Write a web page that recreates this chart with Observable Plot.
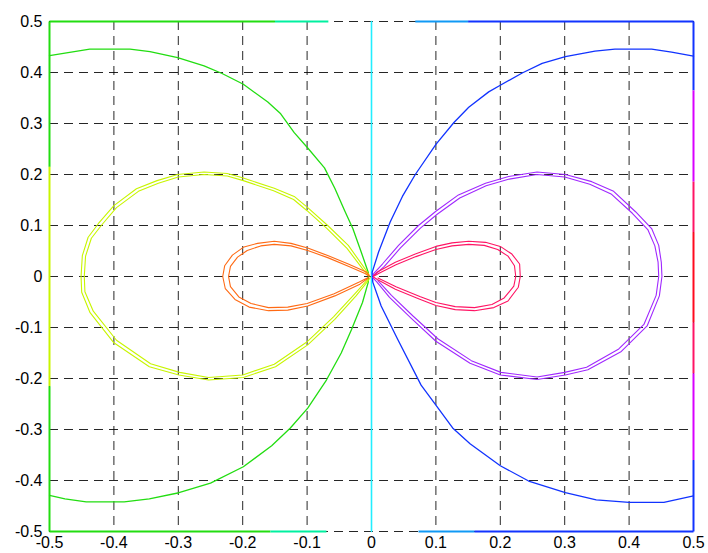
<!DOCTYPE html>
<html><head><meta charset="utf-8">
<script src="https://cdn.jsdelivr.net/npm/d3@7"></script>
<script src="https://cdn.jsdelivr.net/npm/@observablehq/plot@0.6"></script>
<style>body{margin:0;background:#fff;} #chart svg{display:block;}</style>
</head><body><div id="chart"></div>
<script>
const xTicks = [-0.5,-0.4,-0.3,-0.2,-0.1,0,0.1,0.2,0.3,0.4,0.5];
const xTickLabels = ["-0.5","-0.4","-0.3","-0.2","-0.1","0","0.1","0.2","0.3","0.4","0.5"];
const yTicks = [-0.5,-0.4,-0.3,-0.2,-0.1,0,0.1,0.2,0.3,0.4,0.5];
const yTickLabels = ["-0.5","-0.4","-0.3","-0.2","-0.1","0","0.1","0.2","0.3","0.4","0.5"];

// contour curves, [x, y]
const greenCurve = [[-0.500,0.433],[-0.4375,0.446],[-0.400,0.446],[-0.375,0.446],[-0.344,0.441],[-0.301,0.429],[-0.260,0.413],[-0.232,0.398],[-0.199,0.377],[-0.161,0.342],[-0.141,0.319],[-0.120,0.282],[-0.099,0.252],[-0.073,0.213],[-0.057,0.173],[-0.042,0.130],[-0.029,0.094],[-0.016,0.048],[-0.005,0.008],[-0.005,-0.011],[-0.014,-0.051],[-0.031,-0.104],[-0.047,-0.150],[-0.070,-0.203],[-0.099,-0.258],[-0.126,-0.297],[-0.155,-0.332],[-0.199,-0.373],[-0.250,-0.405],[-0.299,-0.424],[-0.345,-0.436],[-0.384,-0.442],[-0.443,-0.442],[-0.476,-0.436],[-0.500,-0.429]];
const blueCurve = [[0.500,0.432],[0.466,0.440],[0.435,0.446],[0.378,0.446],[0.347,0.442],[0.301,0.431],[0.265,0.418],[0.234,0.399],[0.200,0.375],[0.182,0.362],[0.151,0.332],[0.128,0.302],[0.100,0.259],[0.068,0.200],[0.048,0.157],[0.029,0.107],[0.011,0.048],[0.001,0.008],[0.002,-0.011],[0.015,-0.058],[0.041,-0.124],[0.077,-0.213],[0.100,-0.252],[0.126,-0.297],[0.153,-0.328],[0.200,-0.371],[0.244,-0.401],[0.301,-0.424],[0.349,-0.438],[0.400,-0.443],[0.454,-0.443],[0.500,-0.430]];
const yellowOuter = [[-0.004,0.004],[-0.010,0.015],[-0.036,0.061],[-0.068,0.100],[-0.099,0.135],[-0.120,0.157],[-0.151,0.173],[-0.199,0.193],[-0.224,0.202],[-0.260,0.205],[-0.301,0.200],[-0.333,0.188],[-0.365,0.172],[-0.400,0.139],[-0.424,0.104],[-0.440,0.077],[-0.449,0.041],[-0.451,0],[-0.450,-0.031],[-0.437,-0.071],[-0.400,-0.130],[-0.345,-0.177],[-0.299,-0.193],[-0.253,-0.203],[-0.199,-0.198],[-0.149,-0.177],[-0.099,-0.134],[-0.057,-0.084],[-0.024,-0.038],[-0.005,-0.008],[-0.002,-0.002]];
const yellowInner = [[-0.004,0.002],[-0.012,0.012],[-0.038,0.055],[-0.069,0.094],[-0.100,0.129],[-0.121,0.151],[-0.152,0.168],[-0.199,0.188],[-0.224,0.197],[-0.260,0.200],[-0.300,0.195],[-0.331,0.183],[-0.362,0.167],[-0.396,0.135],[-0.419,0.101],[-0.435,0.075],[-0.444,0.040],[-0.446,0],[-0.445,-0.030],[-0.432,-0.068],[-0.396,-0.125],[-0.343,-0.171],[-0.298,-0.188],[-0.253,-0.198],[-0.200,-0.193],[-0.151,-0.172],[-0.101,-0.129],[-0.059,-0.079],[-0.026,-0.034],[-0.006,-0.006]];
const orangeOuter = [[-0.003,0.001],[-0.008,0.009],[-0.036,0.0245],[-0.068,0.041],[-0.099,0.056],[-0.125,0.065],[-0.151,0.069],[-0.177,0.065],[-0.198,0.058],[-0.216,0.042],[-0.228,0.021],[-0.231,0],[-0.227,-0.024],[-0.212,-0.045],[-0.190,-0.060],[-0.160,-0.067],[-0.130,-0.066],[-0.099,-0.058],[-0.057,-0.038],[-0.018,-0.015],[-0.005,-0.003]];
const orangeInner = [[-0.004,0.001],[-0.010,0.006],[-0.036,0.020],[-0.068,0.037],[-0.099,0.051],[-0.125,0.060],[-0.151,0.063],[-0.172,0.060],[-0.193,0.051],[-0.208,0.038],[-0.219,0.020],[-0.222,0],[-0.219,-0.020],[-0.206,-0.040],[-0.187,-0.053],[-0.160,-0.061],[-0.130,-0.060],[-0.100,-0.053],[-0.058,-0.034],[-0.019,-0.011],[-0.005,-0.002]];
const pinkOuter = [[0.003,0.001],[0.009,0.009],[0.037,0.028],[0.068,0.044],[0.100,0.059],[0.125,0.066],[0.151,0.069],[0.177,0.067],[0.200,0.059],[0.218,0.044],[0.230,0.0245],[0.231,0],[0.228,-0.021],[0.212,-0.048],[0.190,-0.061],[0.160,-0.067],[0.130,-0.065],[0.100,-0.057],[0.074,-0.044],[0.037,-0.025],[0.009,-0.006],[0.003,-0.001]];
const pinkInner = [[0.004,0.001],[0.011,0.006],[0.038,0.023],[0.069,0.039],[0.100,0.053],[0.125,0.060],[0.151,0.063],[0.175,0.061],[0.196,0.053],[0.212,0.040],[0.222,0.021],[0.224,0],[0.221,-0.019],[0.206,-0.042],[0.187,-0.055],[0.160,-0.061],[0.130,-0.059],[0.100,-0.051],[0.075,-0.039],[0.038,-0.020],[0.010,-0.003]];
const purpleOuter = [[0.002,0.002],[0.004,0.0066],[0.017,0.0245],[0.042,0.061],[0.073,0.100],[0.100,0.128],[0.135,0.160],[0.177,0.183],[0.213,0.196],[0.257,0.205],[0.301,0.200],[0.342,0.186],[0.376,0.167],[0.410,0.127],[0.435,0.094],[0.446,0.061],[0.450,0.028],[0.451,0],[0.447,-0.038],[0.428,-0.097],[0.388,-0.147],[0.336,-0.183],[0.301,-0.193],[0.257,-0.202],[0.200,-0.193],[0.153,-0.170],[0.100,-0.127],[0.061,-0.081],[0.028,-0.041],[0.0085,-0.011],[0.002,-0.002]];
const purpleInner = [[0.003,0.001],[0.006,0.004],[0.020,0.020],[0.045,0.056],[0.076,0.095],[0.102,0.122],[0.137,0.154],[0.178,0.178],[0.214,0.191],[0.257,0.200],[0.300,0.195],[0.339,0.181],[0.372,0.162],[0.405,0.124],[0.429,0.092],[0.440,0.060],[0.445,0.028],[0.446,0],[0.442,-0.037],[0.423,-0.094],[0.384,-0.142],[0.334,-0.178],[0.300,-0.188],[0.257,-0.197],[0.201,-0.188],[0.155,-0.165],[0.103,-0.122],[0.064,-0.077],[0.031,-0.037],[0.010,-0.008]];

// contour pieces lying on the plot border: [from, to, level]
const topEdge = [[-0.5,-0.15,"green"],[-0.15,-0.067,"teal"],[0.068,0.15,"lightblue"],[0.15,0.5,"blue"]];
const bottomEdge = [[-0.5,-0.157,"green"],[-0.157,-0.07,"teal"],[0.073,0.16,"lightblue"],[0.16,0.5,"blue"]];
const leftEdge = [[0.5,0.215,"green"],[0.215,-0.215,"yellow"],[-0.215,-0.5,"green"]];
const rightEdge = [[0.5,0.365,"blue"],[0.365,0.186,"magenta"],[0.186,0.087,"pink"],[0.087,-0.09,"red"],[-0.09,-0.19,"pink"],[-0.19,-0.36,"magenta"],[-0.36,-0.5,"blue"]];
const zeroLine = [[0,-0.5],[0,0.5]];

const colors = {
  orange:"#ff6a14", yellow:"#c8f500", green:"#22dd11", teal:"#00f0a0", cyan:"#22eeff",
  lightblue:"#1099f5", blue:"#1133ff", purple:"#a028ff", magenta:"#d800ff", pink:"#ff1464", red:"#ff0a1e"
};

const edgeLinks = [
  ...topEdge.map(([a,b,l]) => ({x1:a, x2:b, y1:0.5, y2:0.5, c:colors[l]})),
  ...bottomEdge.map(([a,b,l]) => ({x1:a, x2:b, y1:-0.5, y2:-0.5, c:colors[l]})),
  ...leftEdge.map(([a,b,l]) => ({x1:-0.5, x2:-0.5, y1:a, y2:b, c:colors[l]})),
  ...rightEdge.map(([a,b,l]) => ({x1:0.5, x2:0.5, y1:a, y2:b, c:colors[l]}))
];

const L = (data, color, w=1.1) => Plot.line(data, {x: d => d[0], y: d => d[1], stroke: color, strokeWidth: w, curve: "linear"});

const chart = Plot.plot({
  width: 708, height: 553,
  marginLeft: 49, marginRight: 15, marginTop: 21, marginBottom: 22,
  x: {domain: [-0.5, 0.5]},
  y: {domain: [-0.5, 0.5]},
  style: {fontFamily: "'Liberation Sans', Arial, sans-serif", fontSize: "16px", background: "#fff", color: "#000"},
  marks: [
    Plot.gridX(xTicks, {stroke: "#000", strokeOpacity: 0.85, strokeWidth: 1, strokeDasharray: "9,6"}),
    Plot.gridY(yTicks, {stroke: "#000", strokeOpacity: 0.85, strokeWidth: 1, strokeDasharray: "9,6"}),
    Plot.axisX(xTicks, {tickSize: 0, tickPadding: 5, fontSize: 16, tickFormat: d => xTickLabels[xTicks.indexOf(d)]}),
    Plot.axisY(yTicks, {tickSize: 0, tickPadding: 7, fontSize: 16, tickFormat: d => yTickLabels[yTicks.indexOf(d)]}),
    Plot.link(edgeLinks, {x1: "x1", y1: "y1", x2: "x2", y2: "y2", stroke: d => d.c, strokeWidth: 2}),
    L(zeroLine, colors.cyan, 1.6),
    L(greenCurve, colors.green, 1.3),
    L(blueCurve, colors.blue, 1.3),
    L(yellowOuter, colors.yellow), L(yellowInner, colors.yellow),
    L(orangeOuter, colors.orange), L(orangeInner, colors.orange),
    L(purpleOuter, colors.purple), L(purpleInner, colors.purple),
    L(pinkOuter, colors.pink), L(pinkInner, colors.pink)
  ]
});
document.getElementById("chart").appendChild(chart);
</script>
</body></html>
